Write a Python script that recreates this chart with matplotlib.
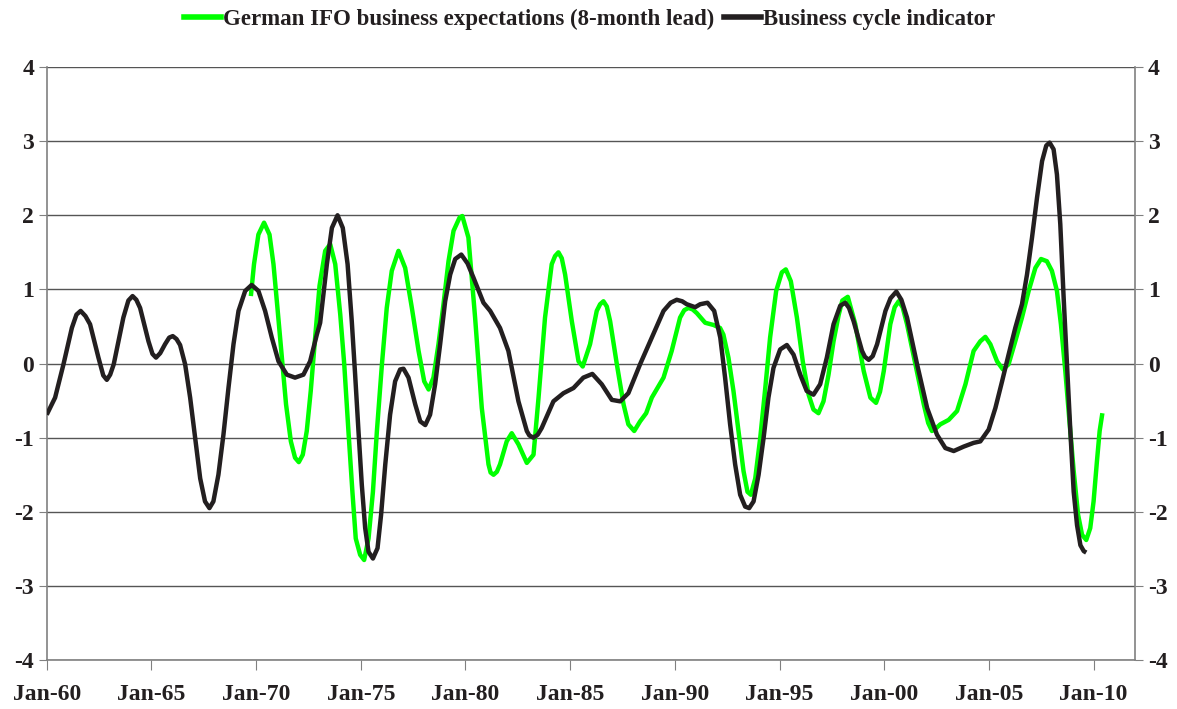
import matplotlib
matplotlib.use("Agg")
import matplotlib.pyplot as plt
from matplotlib.lines import Line2D

# ---- data (decimal years) ----
bci_x = [1960.0, 1960.4, 1960.8, 1961.2, 1961.42, 1961.62, 1961.85, 1962.07, 1962.47, 1962.7,
         1962.87, 1963.03, 1963.2, 1963.66, 1963.9, 1964.1, 1964.28, 1964.46, 1964.86, 1965.05,
         1965.22, 1965.42, 1965.65, 1965.85, 1966.02, 1966.2, 1966.37, 1966.61, 1966.85, 1967.09,
         1967.33, 1967.56, 1967.77, 1967.96, 1968.2, 1968.44, 1968.68, 1968.92, 1969.16, 1969.48,
         1969.79, 1970.11, 1970.43, 1970.75, 1971.07, 1971.47, 1971.86, 1972.26, 1972.58, 1972.9,
         1973.06, 1973.38, 1973.62, 1973.89, 1974.14, 1974.37, 1974.57, 1974.73, 1974.89, 1975.05,
         1975.21, 1975.37, 1975.58, 1975.8, 1975.97, 1976.17, 1976.4, 1976.64, 1976.88, 1977.04,
         1977.28, 1977.6, 1977.84, 1978.08, 1978.31, 1978.55, 1978.79, 1979.03, 1979.27, 1979.51,
         1979.8, 1980.1, 1980.38, 1980.86, 1981.18, 1981.65, 1982.05, 1982.53, 1982.93, 1983.05,
         1983.25, 1983.45, 1983.64, 1984.2, 1984.68, 1985.16, 1985.63, 1986.06, 1986.51, 1986.99,
         1987.39, 1987.78, 1988.34, 1988.9, 1989.46, 1989.8, 1990.09, 1990.35, 1990.57, 1990.97,
         1991.21, 1991.56, 1991.88, 1992.17, 1992.4, 1992.64, 1992.88, 1993.12, 1993.36, 1993.55,
         1993.76, 1994.0, 1994.24, 1994.47, 1994.71, 1995.03, 1995.35, 1995.67, 1995.99, 1996.3,
         1996.62, 1996.94, 1997.26, 1997.58, 1997.9, 1998.14, 1998.32, 1998.54, 1998.94, 1999.08,
         1999.26, 1999.45, 1999.66, 2000.06, 2000.3, 2000.58, 2000.82, 2001.09, 2001.57, 2002.05,
         2002.52, 2002.92, 2003.32, 2003.8, 2004.27, 2004.59, 2004.99, 2005.31, 2005.63, 2005.94,
         2006.26, 2006.58, 2006.82, 2007.06, 2007.3, 2007.54, 2007.74, 2007.9, 2008.09, 2008.25,
         2008.41, 2008.57, 2008.73, 2008.89, 2009.05, 2009.21, 2009.37, 2009.53, 2009.65]
bci_y = [-0.69, -0.46, -0.01, 0.48, 0.66, 0.71, 0.64, 0.53, 0.08, -0.16,
         -0.22, -0.15, -0.01, 0.62, 0.85, 0.91, 0.86, 0.75, 0.30, 0.13,
         0.08, 0.14, 0.26, 0.35, 0.37, 0.33, 0.25, -0.01, -0.46, -1.00,
         -1.55, -1.86, -1.95, -1.86, -1.50, -0.96, -0.33, 0.26, 0.71, 0.98,
         1.06, 0.98, 0.71, 0.35, 0.03, -0.15, -0.19, -0.15, 0.03, 0.39,
         0.55, 1.34, 1.83, 2.00, 1.83, 1.34, 0.57, -0.15, -0.91, -1.64,
         -2.22, -2.54, -2.63, -2.49, -2.04, -1.36, -0.69, -0.24, -0.08, -0.07,
         -0.19, -0.55, -0.78, -0.83, -0.69, -0.28, 0.26, 0.84, 1.20, 1.41,
         1.47, 1.35, 1.16, 0.82, 0.71, 0.48, 0.17, -0.51, -0.91, -0.97,
         -1.00, -0.96, -0.87, -0.51, -0.40, -0.33, -0.19, -0.14, -0.28, -0.49,
         -0.51, -0.40, -0.01, 0.35, 0.71, 0.82, 0.86, 0.84, 0.80, 0.76,
         0.80, 0.82, 0.71, 0.35, -0.19, -0.82, -1.36, -1.77, -1.93, -1.95,
         -1.86, -1.50, -1.00, -0.46, -0.06, 0.19, 0.25, 0.12, -0.15, -0.37,
         -0.42, -0.28, 0.08, 0.53, 0.78, 0.82, 0.75, 0.57, 0.17, 0.09,
         0.05, 0.10, 0.26, 0.71, 0.88, 0.97, 0.86, 0.62, -0.01, -0.60,
         -0.96, -1.14, -1.18, -1.12, -1.07, -1.05, -0.89, -0.60, -0.24, 0.12,
         0.48, 0.80, 1.20, 1.70, 2.24, 2.73, 2.94, 2.98, 2.89, 2.55,
         1.88, 0.89, -0.01, -0.91, -1.73, -2.18, -2.45, -2.53, -2.55]

ifo_x = [1969.75, 1969.9, 1970.11, 1970.38, 1970.64, 1970.83, 1971.02, 1971.23, 1971.43, 1971.66,
         1971.86, 1972.04, 1972.23, 1972.42, 1972.61, 1972.82, 1973.03, 1973.3, 1973.54, 1973.78,
         1974.02, 1974.21, 1974.41, 1974.6, 1974.76, 1974.97, 1975.16, 1975.37, 1975.58, 1975.77,
         1976.01, 1976.24, 1976.48, 1976.8, 1977.12, 1977.44, 1977.76, 1978.03, 1978.24, 1978.47,
         1978.71, 1978.95, 1979.19, 1979.43, 1979.72, 1979.85, 1980.14, 1980.46, 1980.78, 1981.1,
         1981.2, 1981.34, 1981.5, 1981.65, 1981.97, 1982.21, 1982.53, 1982.93, 1983.25, 1983.49,
         1983.8, 1984.12, 1984.28, 1984.44, 1984.6, 1984.76, 1985.08, 1985.4, 1985.6, 1985.95,
         1986.27, 1986.43, 1986.59, 1986.75, 1986.91, 1987.23, 1987.55, 1987.78, 1988.06, 1988.34,
         1988.63, 1988.9, 1989.46, 1989.85, 1990.25, 1990.45, 1990.65, 1990.85, 1991.05, 1991.45,
         1991.85, 1992.16, 1992.32, 1992.56, 1992.8, 1993.04, 1993.28, 1993.47, 1993.63, 1993.84,
         1994.08, 1994.32, 1994.55, 1994.84, 1995.11, 1995.3, 1995.54, 1995.83, 1996.11, 1996.39,
         1996.62, 1996.86, 1997.1, 1997.34, 1997.58, 1997.82, 1998.0, 1998.26, 1998.62, 1999.02,
         1999.34, 1999.61, 1999.8, 1999.98, 2000.29, 2000.5, 2000.69, 2000.88, 2001.09, 2001.49,
         2001.89, 2002.1, 2002.28, 2002.45, 2002.68, 2003.08, 2003.48, 2003.88, 2004.27, 2004.59,
         2004.83, 2005.07, 2005.39, 2005.67, 2005.94, 2006.26, 2006.58, 2006.9, 2007.22, 2007.49,
         2007.77, 2008.01, 2008.25, 2008.44, 2008.65, 2008.86, 2009.05, 2009.26, 2009.45, 2009.65,
         2009.84, 2010.0, 2010.16, 2010.29, 2010.42]
ifo_y = [0.91, 1.34, 1.74, 1.90, 1.74, 1.34, 0.75, 0.08, -0.55, -1.05,
         -1.27, -1.33, -1.23, -0.91, -0.37, 0.35, 1.05, 1.52, 1.61, 1.34,
         0.66, -0.01, -0.91, -1.73, -2.36, -2.58, -2.65, -2.36, -1.73, -0.91,
         -0.01, 0.75, 1.25, 1.52, 1.29, 0.75, 0.17, -0.24, -0.35, -0.19,
         0.26, 0.80, 1.38, 1.79, 1.97, 1.99, 1.70, 0.62, -0.60, -1.36,
         -1.47, -1.50, -1.46, -1.36, -1.05, -0.94, -1.09, -1.34, -1.23, -0.46,
         0.62, 1.34, 1.45, 1.50, 1.42, 1.20, 0.57, 0.03, -0.04, 0.26,
         0.71, 0.80, 0.84, 0.77, 0.57, -0.01, -0.55, -0.82, -0.91, -0.78,
         -0.67, -0.46, -0.19, 0.17, 0.62, 0.72, 0.75, 0.73, 0.68, 0.55,
         0.52, 0.48, 0.39, 0.08, -0.37, -0.91, -1.45, -1.73, -1.77, -1.55,
         -1.00, -0.33, 0.35, 0.98, 1.23, 1.27, 1.11, 0.62, 0.03, -0.42,
         -0.62, -0.67, -0.51, -0.15, 0.30, 0.65, 0.85, 0.90, 0.53, -0.10,
         -0.46, -0.53, -0.38, -0.10, 0.53, 0.76, 0.84, 0.76, 0.53, -0.01,
         -0.55, -0.80, -0.91, -0.88, -0.82, -0.76, -0.64, -0.28, 0.17, 0.30,
         0.36, 0.26, 0.03, -0.08, -0.01, 0.30, 0.62, 0.98, 1.29, 1.41,
         1.38, 1.25, 0.98, 0.53, -0.10, -0.82, -1.45, -2.04, -2.31, -2.38,
         -2.22, -1.86, -1.32, -0.91, -0.67]

tick_years = [1960, 1965, 1970, 1975, 1980, 1985, 1990, 1995, 2000, 2005, 2010]
tick_labels = ["Jan-60", "Jan-65", "Jan-70", "Jan-75", "Jan-80", "Jan-85",
               "Jan-90", "Jan-95", "Jan-00", "Jan-05", "Jan-10"]
y_ticks = [-4, -3, -2, -1, 0, 1, 2, 3, 4]

labels = ["German IFO business expectations (8-month lead)", "Business cycle indicator"]
colors = ["#00FF00", "#231F20"]

plt.rcParams['font.family'] = ['Liberation Serif', 'DejaVu Serif']
plt.rcParams['font.weight'] = 'bold'

fig = plt.figure(figsize=(11.77, 7.09), dpi=100)
ax = fig.add_axes([0.0397, 0.069, 0.925, 0.8365])

ax.plot(ifo_x, ifo_y, color=colors[0], lw=3.2, solid_joinstyle='round', solid_capstyle='butt', zorder=3)
ax.plot(bci_x, bci_y, color=colors[1], lw=3.2, solid_joinstyle='round', solid_capstyle='butt', zorder=4)

ax.set_xlim(1960, 2012)
ax.set_ylim(-4, 4)
ax.set_xticks(tick_years)
ax.set_xticklabels(tick_labels)
ax.set_yticks(y_ticks)
ax.set_yticklabels([str(v) for v in y_ticks])

for v in y_ticks:
    ax.axhline(v, color="#555555", lw=1.0, zorder=1)

ax.spines['top'].set_visible(False)
for s in ['left', 'right', 'bottom']:
    ax.spines[s].set_color("#808080")
    ax.spines[s].set_linewidth(1.2)

ax.tick_params(axis='y', left=True, right=True, labelleft=True, labelright=True,
               direction='out', length=6, color="#808080", labelsize=17, pad=3)
ax.tick_params(axis='x', direction='out', length=7, color="#808080", labelsize=17, pad=10)
for t in ax.get_xticklabels() + ax.get_yticklabels():
    t.set_fontweight('bold')
    t.set_color('#231F20')

handles = [Line2D([0], [0], color=c, lw=4) for c in colors]
leg = fig.legend(handles, labels, loc='center', bbox_to_anchor=(0.501, 0.972),
                 ncol=2, frameon=False, handlelength=1.6, handletextpad=0.1,
                 columnspacing=0.45, borderpad=0.1,
                 prop={'family': 'Liberation Serif', 'weight': 'bold', 'size': 16.5})
for t in leg.get_texts():
    t.set_color('#231F20')

fig.savefig("out.png", dpi=100)
